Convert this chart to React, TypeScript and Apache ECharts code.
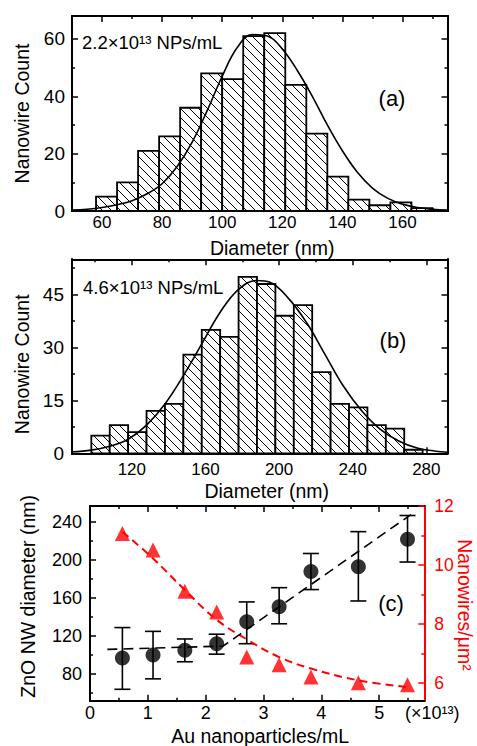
import React, { useEffect, useRef } from 'react';
import * as echarts from 'echarts';

const FONT = '"Liberation Sans", Arial, sans-serif';

// ---------- Panel (a): 2.2e13 NPs/mL ----------
const binStartA = [58, 65, 72, 79, 86, 93, 100, 107, 114, 121, 128, 135, 142, 149, 156, 163];
const binWidthA = 7;
const countsA = [5, 10, 21, 26, 36, 48, 46, 61, 62, 44, 27, 12, 4, 2, 3, 1];
const fitXA = [50, 55, 60, 65, 70, 75, 80, 85, 90, 95, 100, 105, 110, 115, 120, 125, 130, 135, 140, 145, 150, 155, 160, 165, 170, 175];
const fitYA = [0.3, 0.6, 1.2, 2.2, 3.6, 6, 9.5, 15.5, 24, 35, 47, 57, 61.5, 61, 56.5, 49, 40, 30, 21, 13.5, 8, 4.5, 2.4, 1.2, 0.6, 0.3];
const xMajorsA = [60, 80, 100, 120, 140, 160];
const xMinorsA = [70, 90, 110, 130, 150, 170];
const yMajorsA = [0, 20, 40, 60];
const yMinorsA = [10, 30, 50];

// ---------- Panel (b): 4.6e13 NPs/mL ----------
const binStartB = [98, 108, 118, 128, 138, 148, 158, 168, 178, 188, 198, 208, 218, 228, 238, 248, 258, 268];
const binWidthB = 10;
const countsB = [5, 8, 6, 12, 14, 28, 35, 33, 50, 48, 39, 42, 23, 14, 13, 8, 7, 1];
const fitXB = [87.5, 98, 108, 118, 128, 138, 148, 158, 168, 178, 188, 195, 205, 215, 225, 235, 245, 255, 265, 275, 285, 291.5];
const fitYB = [0.4, 0.9, 2, 4, 8, 14, 22, 31, 40, 46.5, 49, 48.5, 44, 37, 28, 19, 12, 6.8, 3.5, 1.5, 0.6, 0.3];
const xMajorsB = [120, 160, 200, 240, 280];
const xMinorsB = [100, 140, 180, 220, 260];
const yMajorsB = [0, 15, 30, 45];
const yMinorsB = [7.5, 22.5, 37.5, 52.5];

// ---------- Panel (c) ----------
const auConc = [0.56, 1.09, 1.64, 2.19, 2.71, 3.27, 3.82, 4.64, 5.49];
const nwDiameter = [97, 100, 105, 112, 135, 151, 188, 193, 222];
const diamLow = [64, 75, 93, 101, 112, 133, 169, 157, 198];
const diamHigh = [129, 125, 117, 122, 156, 171, 207, 230, 247];
const density = [11.07, 10.51, 9.11, 8.41, 6.88, 6.62, 6.2, 6.01, 5.94];
const diamFitX = [0.3, 2.3, 5.55];
const diamFitY = [106, 109.5, 248];
const densFitX = [0.56, 1.09, 1.64, 2.18, 2.71, 3.27, 3.82, 4.64, 5.49];
const densFitY = [11.13, 10.22, 9.15, 8.16, 7.48, 6.88, 6.49, 6.09, 5.86];
const xMajorsC = [0, 1, 2, 3, 4, 5];
const xMinorsC = [0.5, 1.5, 2.5, 3.5, 4.5, 5.5];
const yMajorsC = [80, 120, 160, 200, 240];
const yMinorsC = [60, 100, 140, 180, 220];
const rMajorsC = [6, 8, 10, 12];
const rMinorsC = [7, 9, 11];

const RED = '#ff0000';
const TITLE_SIZE = 19.5;

function tick(values: number[], len: number, color = '#000') {
  return { show: true, inside: true, length: len, customValues: values, lineStyle: { color, width: 1.5 } };
}

function xAxisSet(grid: number, min: number, max: number, majors: number[], minors: number[], o: any) {
  const common: any = {
    type: 'value', gridIndex: grid, min, max,
    splitLine: { show: false },
    axisLine: { show: true, onZero: false, lineStyle: { color: '#000', width: 2 } },
  };
  return [
    {
      ...common, position: 'bottom',
      name: o.name, nameLocation: 'middle', nameGap: o.nameGap,
      nameTextStyle: { fontFamily: FONT, fontSize: TITLE_SIZE, color: '#000', padding: o.namePad || 0 },
      axisTick: tick(majors, 6),
      axisLabel: { show: true, customValues: majors, margin: o.margin, fontFamily: FONT, fontSize: o.fontSize, color: '#000' },
    },
    { ...common, position: 'bottom', axisTick: tick(minors, 3), axisLabel: { show: false } },
    { ...common, position: 'top', axisTick: tick(majors, 6), axisLabel: { show: false } },
    { ...common, position: 'top', axisTick: tick(minors, 3), axisLabel: { show: false } },
  ];
}

function yAxisSet(grid: number, min: number, max: number, majors: number[], minors: number[], o: any) {
  const common: any = {
    type: 'value', gridIndex: grid, min, max,
    splitLine: { show: false },
    axisLine: { show: true, onZero: false, lineStyle: { color: '#000', width: 2 } },
  };
  return [
    {
      ...common, position: 'left',
      name: o.name, nameLocation: 'middle', nameGap: o.nameGap,
      nameTextStyle: { fontFamily: FONT, fontSize: TITLE_SIZE, color: '#000', padding: o.namePad || 0 },
      axisTick: tick(majors, 6),
      axisLabel: { show: true, customValues: majors, margin: o.margin, fontFamily: FONT, fontSize: o.fontSize, color: '#000' },
    },
    { ...common, position: 'left', axisTick: tick(minors, 3), axisLabel: { show: false } },
    { ...common, position: 'right', axisTick: tick(majors, 6), axisLabel: { show: false } },
    { ...common, position: 'right', axisTick: tick(minors, 3), axisLabel: { show: false } },
  ];
}

function histSeries(starts: number[], width: number, counts: number[], axisIdx: number) {
  return {
    type: 'custom',
    xAxisIndex: axisIdx,
    yAxisIndex: axisIdx,
    data: starts.map((s, i) => [s, s + width, counts[i]]),
    renderItem: (params: any, api: any) => {
      const p0 = api.coord([api.value(0), 0]);
      const p1 = api.coord([api.value(1), api.value(2)]);
      const xl = p0[0], xr = p1[0], yb = p0[1], yt = p1[1];
      const children: any[] = [];
      children.push({ type: 'rect', shape: { x: xl, y: yt, width: xr - xl, height: yb - yt }, style: { fill: '#fff' } });
      const s = 9;
      const cMin = yt - xr, cMax = yb - xl;
      for (let c = Math.ceil(cMin / s) * s; c <= cMax; c += s) {
        const xa = Math.max(xl, yt - c);
        const xb = Math.min(xr, yb - c);
        if (xb - xa > 0.5) {
          children.push({ type: 'line', shape: { x1: xa, y1: xa + c, x2: xb, y2: xb + c }, style: { stroke: '#000', lineWidth: 1 } });
        }
      }
      children.push({ type: 'rect', shape: { x: xl, y: yt, width: xr - xl, height: yb - yt }, style: { fill: 'none', stroke: '#000', lineWidth: 1.8 } });
      return { type: 'group', children };
    },
  };
}

export default function App() {
  const ref = useRef<HTMLDivElement>(null);
  useEffect(() => {
    if (!ref.current) return;
    const chart = echarts.init(ref.current, undefined, { renderer: 'svg' });
    const grids = [
      { left: 72, right: 29.5, top: 16, height: 195, containLabel: false, outerBoundsMode: 'none' },
      { left: 72, right: 29.5, top: 259.3, height: 194, containLabel: false, outerBoundsMode: 'none' },
      { left: 90, right: 52.7, top: 506, height: 194.7, containLabel: false, outerBoundsMode: 'none' },
    ];

    const xAxes = [
      ...xAxisSet(0, 50, 175, xMajorsA, xMinorsA, { name: 'Diameter (nm)', nameGap: 26.5, margin: 3, fontSize: 17, namePad: [0, 0, 0, 25] }),
      ...xAxisSet(1, 87.5, 291.5, xMajorsB, xMinorsB, { name: 'Diameter (nm)', nameGap: 27.5, margin: 8, fontSize: 17, namePad: [0, 0, 0, 14] }),
      ...xAxisSet(2, 0, 5.78, xMajorsC, xMinorsC, { name: 'Au nanoparticles/mL', nameGap: 25, margin: 3, fontSize: 18, namePad: [0, 0, 0, 6] }),
    ];

    const yA = yAxisSet(0, 0, 68, yMajorsA, yMinorsA, { name: 'Nanowire Count', nameGap: 40, margin: 7, fontSize: 19 });
    const yB = yAxisSet(1, 0, 55, yMajorsB, yMinorsB, { name: 'Nanowire Count', nameGap: 40, margin: 8, fontSize: 19, namePad: [0, 16, 0, 0] });
    const yC = yAxisSet(2, 52, 257, yMajorsC, yMinorsC, { name: 'ZnO NW diameter (nm)', nameGap: 52, margin: 8, fontSize: 18, namePad: [0, 0, 0, 14] });
    // right axes of panel (c): red density axis (its title is drawn as rotated text below)
    const redCommon: any = {
      type: 'value', gridIndex: 2, min: 5.4, max: 12, position: 'right',
      splitLine: { show: false },
      axisLine: { show: true, onZero: false, lineStyle: { color: RED, width: 2 } },
    };
    yC[2] = {
      ...redCommon,
      axisTick: tick(rMajorsC, 6, RED),
      axisLabel: { show: true, customValues: rMajorsC, margin: 10, fontFamily: FONT, fontSize: 17.5, color: RED },
    };
    yC[3] = { ...redCommon, axisTick: tick(rMinorsC, 3, RED), axisLabel: { show: false } };

    const yAxes = [...yA, ...yB, ...yC];

    const series: any[] = [
      histSeries(binStartA, binWidthA, countsA, 0),
      {
        type: 'line', xAxisIndex: 0, yAxisIndex: 0, smooth: 0.4, showSymbol: false, symbol: 'none',
        data: fitXA.map((x, i) => [x, fitYA[i]]),
        lineStyle: { color: '#000', width: 1.6 },
      },
      histSeries(binStartB, binWidthB, countsB, 4),
      {
        type: 'line', xAxisIndex: 4, yAxisIndex: 4, smooth: 0.4, showSymbol: false, symbol: 'none',
        data: fitXB.map((x, i) => [x, fitYB[i]]),
        lineStyle: { color: '#000', width: 1.6 },
      },
      {
        type: 'line', xAxisIndex: 8, yAxisIndex: 10, smooth: 0.4, showSymbol: false, symbol: 'none',
        data: densFitX.map((x, i) => [x, densFitY[i]]),
        lineStyle: { color: RED, width: 2, type: [8, 5] },
      },
      {
        type: 'scatter', xAxisIndex: 8, yAxisIndex: 10, symbol: 'triangle', symbolSize: 15,
        data: auConc.map((x, i) => [x, density[i]]),
        itemStyle: { color: RED },
      },
      {
        type: 'line', xAxisIndex: 8, yAxisIndex: 8, showSymbol: false, symbol: 'none',
        data: diamFitX.map((x, i) => [x, diamFitY[i]]),
        lineStyle: { color: '#000', width: 1.6, type: [10, 6] },
      },
      {
        type: 'custom', xAxisIndex: 8, yAxisIndex: 8,
        data: auConc.map((x, i) => [x, diamLow[i], diamHigh[i]]),
        renderItem: (params: any, api: any) => {
          const lo = api.coord([api.value(0), api.value(1)]);
          const hi = api.coord([api.value(0), api.value(2)]);
          const w = 8;
          const st = { stroke: '#000', lineWidth: 1.6 };
          return {
            type: 'group',
            children: [
              { type: 'line', shape: { x1: lo[0], y1: lo[1], x2: hi[0], y2: hi[1] }, style: st },
              { type: 'line', shape: { x1: lo[0] - w, y1: lo[1], x2: lo[0] + w, y2: lo[1] }, style: st },
              { type: 'line', shape: { x1: hi[0] - w, y1: hi[1], x2: hi[0] + w, y2: hi[1] }, style: st },
            ],
          };
        },
      },
      {
        type: 'scatter', xAxisIndex: 8, yAxisIndex: 8, symbol: 'circle', symbolSize: 15,
        data: auConc.map((x, i) => [x, nwDiameter[i]]),
        itemStyle: { color: '#000' },
      },
    ];

    const txt = (text: string, x: number, y: number, size: number, align = 'left', color = '#000', rotation = 0) => ({
      type: 'text', x, y, rotation, silent: true,
      style: { text, fill: color, font: `${size}px ${FONT}`, align, verticalAlign: 'middle' },
    });

    chart.setOption({
      animation: false,
      backgroundColor: '#fff',
      textStyle: { fontFamily: FONT },
      grid: grids,
      xAxis: xAxes,
      yAxis: yAxes,
      series,
      graphic: [
        txt('2.2×10¹³ NPs/mL', 82, 42, 18.5),
        txt('(a)', 392, 98, 22, 'center'),
        txt('4.6×10¹³ NPs/mL', 83, 287, 18.5),
        txt('(b)', 393, 340, 22, 'center'),
        txt('(c)', 391, 603, 22, 'center'),
        txt('(×10¹³)', 405, 713, 18),
        txt('Nanowires/μm²', 465, 605, 19.5, 'center', RED, -Math.PI / 2),
      ],
    });
    return () => chart.dispose();
  }, []);
  return <div ref={ref} style={{ position: 'absolute', left: 0, top: 0, width: 477, height: 746, background: '#fff' }} />;
}
